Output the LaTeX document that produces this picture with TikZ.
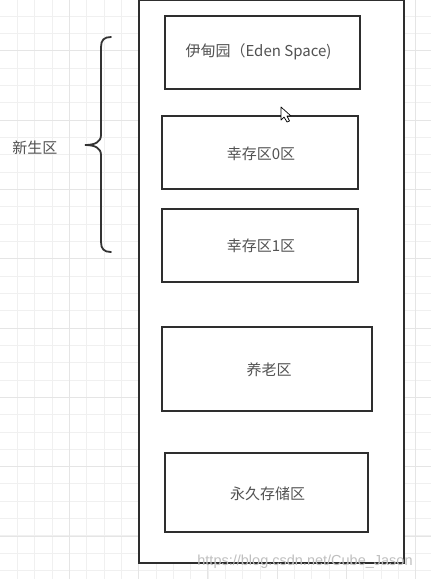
\documentclass[tikz,border=0pt]{standalone}
\usepackage{fontspec}
\setmainfont{Liberation Sans}
\newfontfamily\cjk{Noto Sans CJK SC}
\begin{document}
\begin{tikzpicture}[x=1pt,y=-1pt,
  gridminor/.style={draw=black!6,line width=0.9pt},
  gridmajor/.style={draw=black!10,line width=1pt},
  region/.style={draw=black!82,line width=2pt,fill=white,inner sep=0pt},
  lbl/.style={text=black!68,font=\cjk\fontsize{15}{17}\selectfont,inner sep=0pt},
  bracepath/.style={draw=black!80,line width=1.8pt,line cap=round}
]
\useasboundingbox (0,0) rectangle (431,579);
\fill[white] (0,0) rectangle (431,579);
% grid
\foreach \k in {1,...,24} {
  \draw[gridminor] ({17.33*\k},0) -- ({17.33*\k},579);
}
\foreach \k in {1,...,33} {
  \draw[gridminor] (0,{17.33*\k-1.3}) -- (431,{17.33*\k-1.3});
}
\foreach \k in {1,...,6} {
  \draw[gridmajor] ({69.33*\k},0) -- ({69.33*\k},579);
}
\foreach \k in {0,...,7} {
  \draw[gridmajor] (0,{50.7+69.33*\k}) -- (431,{50.7+69.33*\k});
}
% outer heap
\node[region,minimum width=265pt,minimum height=563pt] (heap) at (271.5,281) {};
% inner regions
\node[region,minimum width=195pt,minimum height=73pt] (eden) at (262.5,52.5) {};
\node[lbl] (edent) at (258.5,52) {伊甸园（Eden Space)};
\node[region,minimum width=196pt,minimum height=73pt] (s0) at (260,152.5) {};
\node[lbl] (s0t) at (261,154) {幸存区0区};
\node[region,minimum width=196pt,minimum height=73pt] (s1) at (260,245.5) {};
\node[lbl] (s1t) at (261,246) {幸存区1区};
\node[region,minimum width=210pt,minimum height=84pt] (old) at (266.5,369) {};
\node[lbl] (oldt) at (269,370) {养老区};
\node[region,minimum width=203pt,minimum height=79pt] (perm) at (266.5,492.5) {};
\node[lbl] (permt) at (267.5,494) {永久存储区};
% brace
\coordinate (bt) at (111,37);
\coordinate (bm) at (85,145);
\coordinate (bb) at (111,252);
\draw[bracepath] (bt) .. controls (104,37) and (101,40) .. (101,47)
  -- (101,135) .. controls (101,142) and (95,145) .. (bm)
  .. controls (95,145) and (101,148) .. (101,155)
  -- (101,242) .. controls (101,249) and (104,252) .. (bb);
\node[lbl] (young) at (35,148) {新生区};
% cursor
\draw[black,line width=0.7pt,fill=white,line join=round]
  (281,107) -- (281,120) -- (284,117) -- (287,122) -- (289.5,121) -- (287,116) -- (291,116) -- cycle;
% watermark
\node[text=black!25,font=\fontsize{14.5}{16}\selectfont,inner sep=0pt] (wm) at (305,562) {https://blog.csdn.net/Cube\_Jason};
\end{tikzpicture}
\end{document}
